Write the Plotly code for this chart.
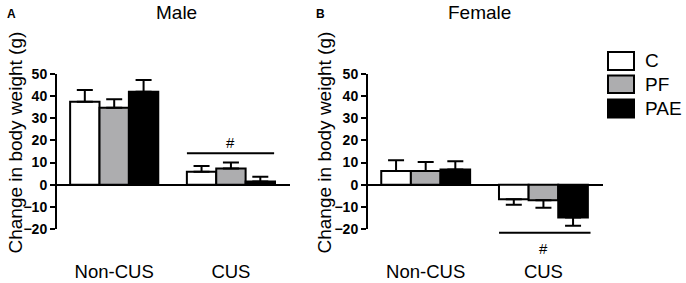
import plotly.graph_objects as go

# ---- data ----
groups = ["Non-CUS", "CUS"]
treatments = ["C", "PF", "PAE"]
colors = ["#ffffff", "#adadaf", "#000000"]

male_C = [37.5, 5.9]
male_PF = [34.8, 7.3]
male_PAE = [42.0, 1.5]
male_C_err = [5.3, 2.5]
male_PF_err = [3.8, 2.7]
male_PAE_err = [5.3, 2.1]

female_C = [6.2, -6.6]
female_PF = [6.2, -7.0]
female_PAE = [6.9, -14.8]
female_C_err = [4.8, 2.4]
female_PF_err = [4.1, 3.4]
female_PAE_err = [3.7, 3.7]

yticks = [-20, -10, 0, 10, 20, 30, 40, 50]
male_sig_y = 14.2
female_sig_y = -21.7

# ---- layout constants ----
W, H = 686, 283
FONT = "Liberation Sans, Arial, sans-serif"
top_px, bot_px = 74, 229
ydom = [1 - bot_px / H, 1 - top_px / H]
xdomA = [57 / W, 290 / W]
xdomB = [368 / W, 603 / W]
yr = [-20, 50]


def ypaper(v):
    return ydom[0] + (v - yr[0]) / (yr[1] - yr[0]) * (ydom[1] - ydom[0])


fig = go.Figure()

male = [(male_C, male_C_err), (male_PF, male_PF_err), (male_PAE, male_PAE_err)]
female = [(female_C, female_C_err), (female_PF, female_PF_err), (female_PAE, female_PAE_err)]


def err(vals, e):
    plus = [ev if v >= 0 else 0 for v, ev in zip(vals, e)]
    minus = [ev if v < 0 else 0 for v, ev in zip(vals, e)]
    return dict(type="data", symmetric=False, array=plus, arrayminus=minus,
                color="black", thickness=2, width=8)


for (vals, e), name, col in zip(male, treatments, colors):
    fig.add_trace(go.Bar(x=groups, y=vals, name=name, marker=dict(color=col, line=dict(color="black", width=2)),
                         error_y=err(vals, e), xaxis="x", yaxis="y", showlegend=False, offsetgroup=name,
                         hoverinfo="skip"))
for (vals, e), name, col in zip(female, treatments, colors):
    fig.add_trace(go.Bar(x=groups, y=vals, name=name, marker=dict(color=col, line=dict(color="black", width=2)),
                         error_y=err(vals, e), xaxis="x2", yaxis="y2", showlegend=False, offsetgroup=name,
                         hoverinfo="skip"))

yax = dict(range=yr, tickvals=yticks, showgrid=False, showline=True, linecolor="black", linewidth=2,
           ticks="outside", ticklen=5, tickwidth=2, tickcolor="black", automargin=False,
           tickfont=dict(family=FONT, size=14, color="black", weight="bold"),
           zeroline=True, zerolinecolor="black", zerolinewidth=2, domain=ydom, fixedrange=True)
xax = dict(type="category", range=[-0.49, 1.506], showgrid=False, showline=False, zeroline=False,
           automargin=False, ticks="", tickfont=dict(family=FONT, size=18.5, color="black"),
           ticklabelstandoff=29, fixedrange=True)

fig.update_layout(
    width=W, height=H, margin=dict(l=0, r=0, t=0, b=0, autoexpand=False),
    paper_bgcolor="white", plot_bgcolor="white",
    barmode="group", bargap=0.245, bargroupgap=0,
    xaxis=dict(domain=xdomA, anchor="y", **xax),
    yaxis=dict(anchor="x", **yax),
    xaxis2=dict(domain=xdomB, anchor="y2", **xax),
    yaxis2=dict(anchor="x2", **yax),
    font=dict(family=FONT, color="black"),
)

ann = []
ann.append(dict(text="<b>A</b>", x=11.7 / W, y=1 - 14 / H, xref="paper", yref="paper", showarrow=False,
                font=dict(size=12), xanchor="center", yanchor="middle"))
ann.append(dict(text="<b>B</b>", x=320 / W, y=1 - 14 / H, xref="paper", yref="paper", showarrow=False,
                font=dict(size=12), xanchor="center", yanchor="middle"))
ann.append(dict(text="Male", x=176 / W, y=1 - 12.5 / H, xref="paper", yref="paper", showarrow=False,
                font=dict(size=19), xanchor="center", yanchor="middle"))
ann.append(dict(text="Female", x=479.5 / W, y=1 - 13 / H, xref="paper", yref="paper", showarrow=False,
                font=dict(size=19), xanchor="center", yanchor="middle"))
for xc in (15, 324):
    ann.append(dict(text="Change in body weight (g)", x=xc / W, y=1 - 142.5 / H, xref="paper", yref="paper",
                    showarrow=False, textangle=-90, font=dict(size=19), xanchor="center", yanchor="middle"))
# significance markers
ann.append(dict(text="#", x=1, y=ypaper(male_sig_y), xref="x", yref="paper", showarrow=False,
                font=dict(size=15), xanchor="center", yanchor="bottom", yshift=0))
ann.append(dict(text="#", x=1, y=ypaper(female_sig_y), xref="x2", yref="paper", showarrow=False,
                font=dict(size=15), xanchor="center", yanchor="top", yshift=-5))

shapes = []
shapes.append(dict(type="line", xref="x", yref="paper", x0=0.623, x1=1.37, y0=ypaper(male_sig_y),
                   y1=ypaper(male_sig_y), line=dict(color="black", width=2)))
shapes.append(dict(type="line", xref="x2", yref="paper", x0=0.623, x1=1.4, y0=ypaper(female_sig_y),
                   y1=ypaper(female_sig_y), line=dict(color="black", width=2)))

# legend drawn as boxes + labels
leg_y = [(52, 70), (75.5, 93), (99.5, 117.5)]
for (y0, y1), name, col in zip(leg_y, treatments, colors):
    shapes.append(dict(type="rect", xref="paper", yref="paper", x0=608 / W, x1=634 / W,
                       y0=1 - y1 / H, y1=1 - y0 / H, fillcolor=col, line=dict(color="black", width=2)))
    ann.append(dict(text=name, x=643 / W, y=1 - (y0 + y1) / 2 / H, xref="paper", yref="paper",
                    showarrow=False, font=dict(size=19), xanchor="left", yanchor="middle"))

fig.update_layout(annotations=ann, shapes=shapes)
fig.write_html("out.html", config={"displayModeBar": False, "staticPlot": True},
               post_script="document.body.style.margin='0';document.body.style.overflow='hidden';")
